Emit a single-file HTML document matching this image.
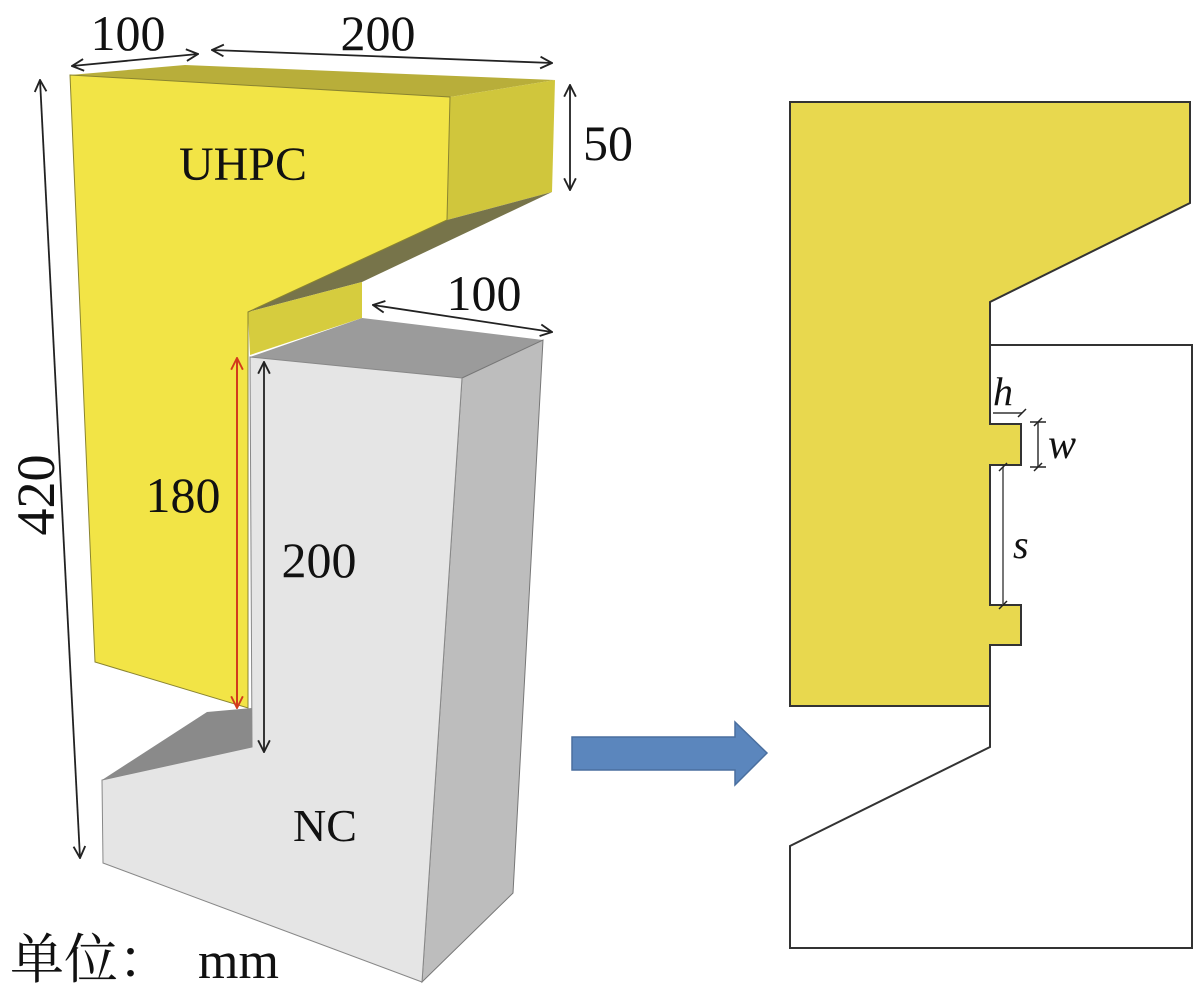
<!DOCTYPE html>
<html><head><meta charset="utf-8"><style>
html,body{margin:0;padding:0;background:#fff;}
svg{display:block;}
text{font-family:"Liberation Serif","Noto Serif CJK SC",serif;fill:#111;}
</style></head><body>
<svg width="1202" height="990" viewBox="0 0 1202 990" xmlns="http://www.w3.org/2000/svg">
<defs>
<marker id="ah" viewBox="0 0 12 12" refX="11" refY="6" markerWidth="14" markerHeight="14" markerUnits="userSpaceOnUse" orient="auto-start-reverse">
<path d="M1,1 L11,6 L1,11" fill="none" stroke="#222" stroke-width="1.6"/>
</marker>
<marker id="ahr" viewBox="0 0 12 12" refX="11" refY="6" markerWidth="14" markerHeight="14" markerUnits="userSpaceOnUse" orient="auto-start-reverse">
<path d="M1,1 L11,6 L1,11" fill="none" stroke="#d23a1c" stroke-width="1.6"/>
</marker>
</defs>

<polygon points="70,75 185,65 555,80 450,97" fill="#b8ae3a"/>
<polygon points="450,97 555,80 552,192 447,220" fill="#d0c63c"/>
<polygon points="447,220 552,192 362,282 248,312" fill="#77744a"/>
<polygon points="248,312 362,282 362,318 250,355" fill="#d6cc3e"/>
<polygon points="70,75 450,97 447,220 248,312 248,708 95,662" fill="#f2e446" stroke="#8a8430" stroke-width="1"/>

<polygon points="250,357 362,318 543,340 462,378" fill="#9b9b9b"/>
<polygon points="462,378 543,340 513,893 422,982" fill="#bdbdbd" stroke="#777" stroke-width="1"/>
<polygon points="250,357 462,378 422,982 103,863 102,780 252,747" fill="#e5e5e5" stroke="#888" stroke-width="1"/>
<polygon points="102,780 207,712 252,708 252,747" fill="#8a8a8a"/>

<line x1="72" y1="66" x2="198" y2="54" stroke="#222" stroke-width="1.8" marker-start="url(#ah)" marker-end="url(#ah)"/>
<line x1="212" y1="50" x2="552" y2="63" stroke="#222" stroke-width="1.8" marker-start="url(#ah)" marker-end="url(#ah)"/>
<line x1="570" y1="85" x2="570" y2="190" stroke="#222" stroke-width="1.8" marker-start="url(#ah)" marker-end="url(#ah)"/>
<line x1="373" y1="305" x2="552" y2="332" stroke="#222" stroke-width="1.8" marker-start="url(#ah)" marker-end="url(#ah)"/>
<line x1="40" y1="80" x2="80" y2="858" stroke="#222" stroke-width="1.8" marker-start="url(#ah)" marker-end="url(#ah)"/>
<line x1="237" y1="358" x2="237" y2="708" stroke="#d23a1c" stroke-width="2" marker-start="url(#ahr)" marker-end="url(#ahr)"/>
<line x1="264" y1="362" x2="264" y2="752" stroke="#222" stroke-width="1.8" marker-start="url(#ah)" marker-end="url(#ah)"/>

<text x="128" y="50" font-size="50" text-anchor="middle">100</text>
<text x="378" y="50" font-size="50" text-anchor="middle">200</text>
<text x="608" y="160" font-size="50" text-anchor="middle">50</text>
<text x="484" y="310" font-size="50" text-anchor="middle">100</text>
<text x="183" y="512" font-size="50" text-anchor="middle">180</text>
<text x="319" y="577" font-size="50" text-anchor="middle">200</text>
<text x="243" y="180" font-size="48" text-anchor="middle">UHPC</text>
<text x="325" y="841" font-size="46" text-anchor="middle">NC</text>
<text transform="translate(54,495) rotate(-90)" font-size="54" text-anchor="middle">420</text>
<text x="10" y="978" font-size="54">单位：</text>
<text x="198" y="978" font-size="52">mm</text>

<polygon points="572,737 735,737 735,722 767,753 735,785 735,770 572,770" fill="#5b86bd" stroke="#4a6f9f" stroke-width="1.5"/>

<polygon points="990,345 1192,345 1192,948 790,948 790,846 990,747 990,706" fill="#fff" stroke="#333" stroke-width="2"/>
<polygon points="790,102 1190,102 1190,203 990,302 990,424 1021,424 1021,465 990,465 990,605 1021,605 1021,645 990,645 990,706 790,706" fill="#e8d84e" stroke="#333" stroke-width="2"/>

<line x1="993" y1="413" x2="1022" y2="413" stroke="#666" stroke-width="2"/>
<line x1="1018" y1="417" x2="1026" y2="409" stroke="#222" stroke-width="1.5"/>
<line x1="1038" y1="422" x2="1038" y2="467" stroke="#666" stroke-width="2"/>
<line x1="1030" y1="422" x2="1046" y2="422" stroke="#222" stroke-width="1.5"/>
<line x1="1030" y1="467" x2="1046" y2="467" stroke="#222" stroke-width="1.5"/>
<line x1="1034" y1="426" x2="1042" y2="418" stroke="#222" stroke-width="1.5"/>
<line x1="1034" y1="471" x2="1042" y2="463" stroke="#222" stroke-width="1.5"/>
<line x1="1003" y1="467" x2="1003" y2="605" stroke="#777" stroke-width="2"/>
<line x1="999" y1="471" x2="1007" y2="463" stroke="#222" stroke-width="1.5"/>
<line x1="999" y1="609" x2="1007" y2="601" stroke="#222" stroke-width="1.5"/>

<text x="993" y="405" font-size="40" font-style="italic">h</text>
<text x="1048" y="458" font-size="42" font-style="italic">w</text>
<text x="1013" y="558" font-size="40" font-style="italic">s</text>
</svg>
</body></html>
